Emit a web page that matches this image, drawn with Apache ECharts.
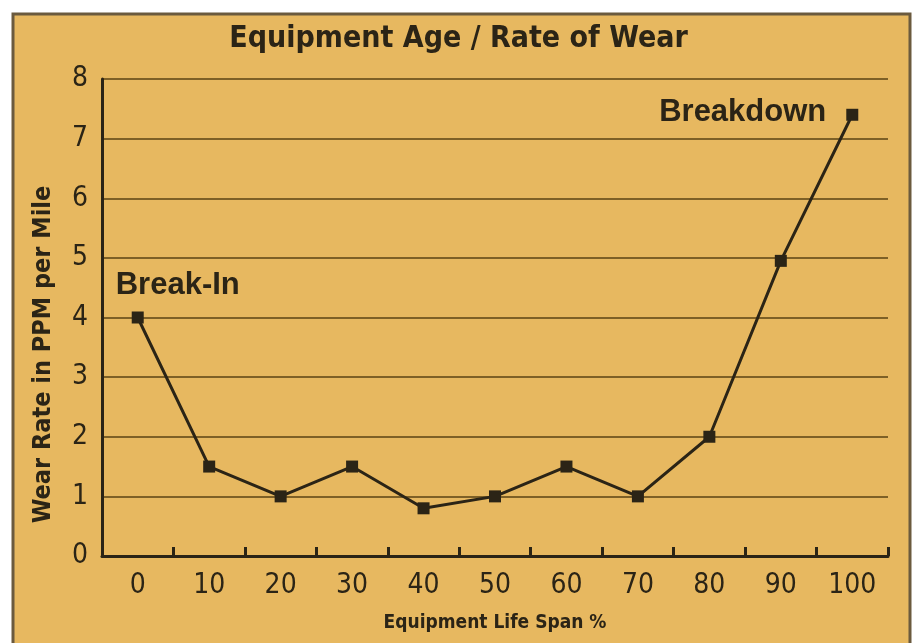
<!DOCTYPE html>
<html>
<head>
<meta charset="utf-8">
<script src="https://cdn.jsdelivr.net/npm/echarts@6/dist/echarts.min.js"></script>
<style>
html,body{margin:0;padding:0;background:#fff;}
#c{width:917px;height:643px;}
</style>
</head>
<body>
<div id="c"></div>
<script>
const categories = ['0','10','20','30','40','50','60','70','80','90','100'];
const wearRate = [4, 1.5, 1, 1.5, 0.8, 1, 1.5, 1, 2, 4.95, 7.4];
const yTicks = [0,1,2,3,4,5,6,7,8];
const annotations = {0: 'Break-In', 10: 'Breakdown'};

const ink = '#2b2416';
const gridCol = '#7e6026';
const narrow = '"DejaVu Sans Condensed", "Liberation Sans", Arial, sans-serif';
const sans = '"Liberation Sans", Arial, sans-serif';

const seriesData = wearRate.map((v, i) => {
  const d = {value: v};
  if (i === 0) {
    d.label = {show: true, formatter: annotations[0], position: 'top', offset: [40, -6],
      fontFamily: sans, fontWeight: 'bold', fontSize: 31, color: ink};
  } else if (i === 10) {
    d.label = {show: true, formatter: annotations[10], position: 'left', distance: 20, offset: [0, -2],
      fontFamily: sans, fontWeight: 'bold', fontSize: 31, color: ink};
  }
  return d;
});

const chart = echarts.init(document.getElementById('c'), null, {renderer: 'canvas'});
chart.setOption({
  backgroundColor: '#ffffff',
  animation: false,
  graphic: [{
    type: 'rect', z: -10, silent: true,
    shape: {x: 13, y: 14, width: 897, height: 640},
    style: {fill: '#e7b860', stroke: '#6b5a3e', lineWidth: 3}
  }],
  title: {
    text: 'Equipment Age / Rate of Wear',
    left: 'center', top: 19,
    textStyle: {fontFamily: narrow, fontWeight: 'bold', fontSize: 30, color: ink}
  },
  grid: {left: 102, right: 29, top: 79, bottom: 87, containLabel: false},
  xAxis: {
    type: 'category',
    data: categories,
    boundaryGap: true,
    name: 'Equipment Life Span %',
    nameLocation: 'middle',
    nameGap: 58,
    nameTextStyle: {fontFamily: narrow, fontWeight: 'bold', fontSize: 19, color: ink},
    axisLine: {lineStyle: {color: ink, width: 3}},
    axisTick: {show: true, inside: true, length: 9, lineStyle: {color: ink, width: 3}, alignWithLabel: false},
    axisLabel: {fontFamily: narrow, fontSize: 28, color: ink, margin: 16},
    splitLine: {show: false}
  },
  yAxis: {
    type: 'value',
    min: 0, max: 8, interval: 1,
    name: 'Wear Rate in PPM per Mile',
    nameLocation: 'middle',
    nameGap: 46,
    nameTextStyle: {fontFamily: narrow, fontWeight: 'bold', fontSize: 25, color: ink, padding: [0, 74, 0, 0]},
    axisLine: {show: true, lineStyle: {color: ink, width: 3}},
    axisTick: {show: false},
    axisLabel: {fontFamily: narrow, fontSize: 28, color: ink, margin: 14,
      formatter: v => yTicks.includes(v) ? String(v) : ''},
    splitLine: {show: true, lineStyle: {color: gridCol, width: 2}}
  },
  series: [{
    type: 'line',
    data: seriesData,
    symbol: 'rect',
    symbolSize: 12,
    lineStyle: {color: ink, width: 3},
    itemStyle: {color: ink},
    z: 5
  }]
});
</script>
</body>
</html>
